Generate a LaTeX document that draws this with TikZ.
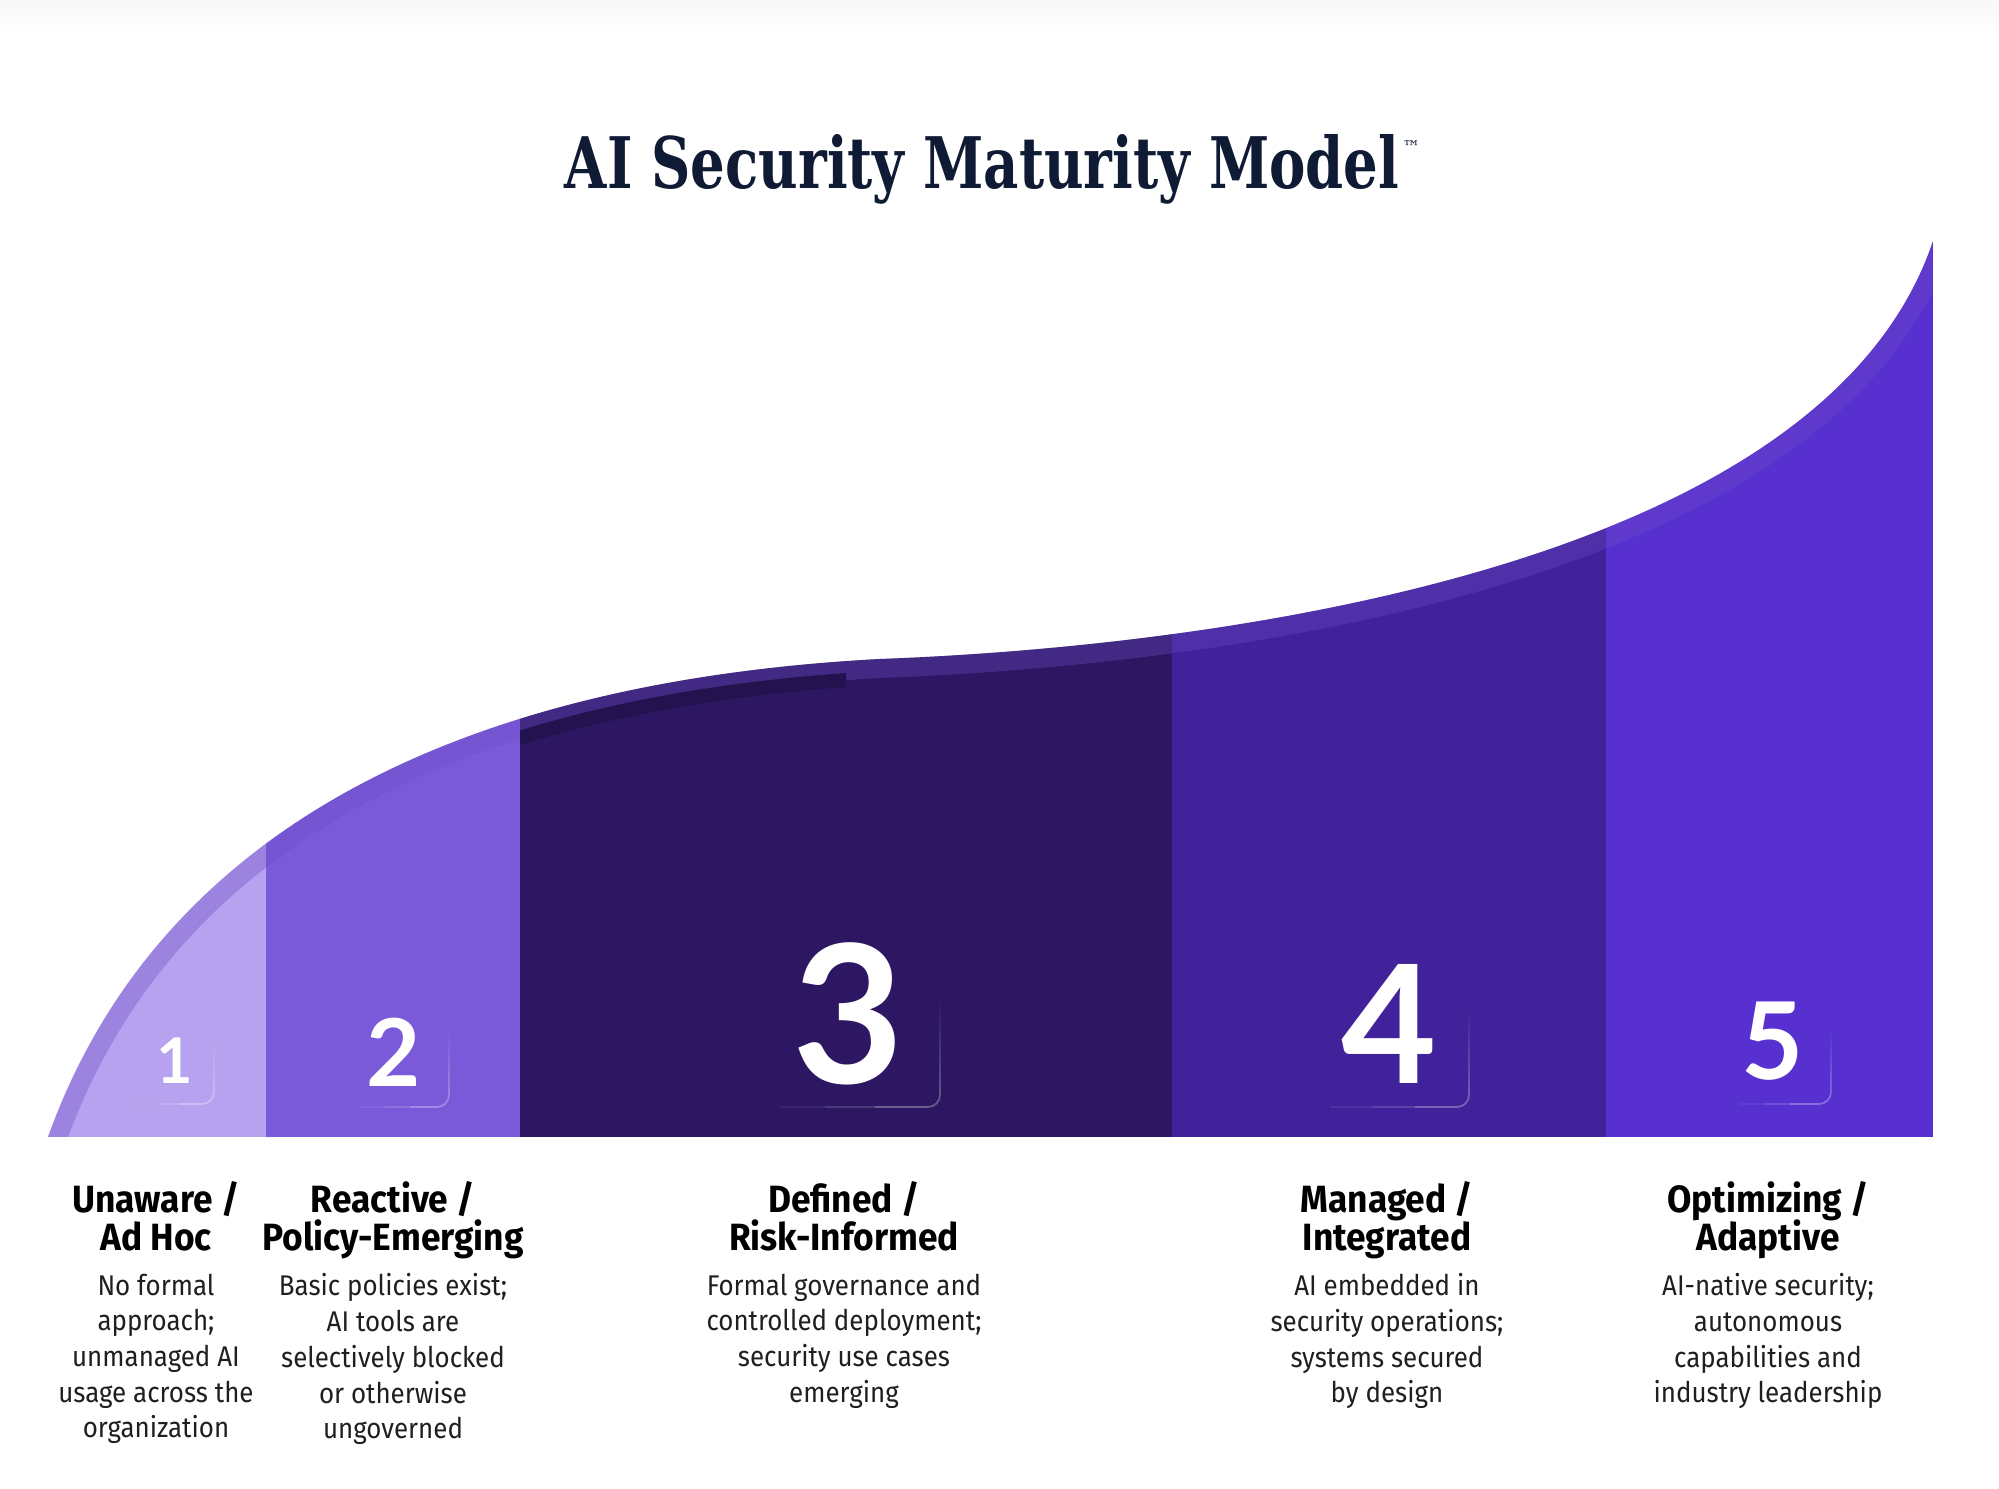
\documentclass[tikz,border=0pt]{standalone}
\usepackage{fontspec}
\usetikzlibrary{fadings}
\newfontfamily\ttlfont{DejaVu Serif}
\newfontfamily\hdfont[FakeStretch=0.93]{Fira Sans}
\newfontfamily\txtfont[FakeStretch=0.91]{Fira Sans}
\newfontfamily\numfont{Lato}
\newcommand\tightlines{\lineskiplimit=-10pt\relax}
\definecolor{ttltext}{HTML}{0F1B34}
\definecolor{lvA}{HTML}{B7A2F0}
\definecolor{lvB}{HTML}{7B5AD9}
\definecolor{lvC}{HTML}{2D1762}
\definecolor{lvD}{HTML}{42229A}
\definecolor{lvE}{HTML}{5830D0}
\definecolor{bandc}{HTML}{6A4CC4}
\definecolor{shadec}{HTML}{22134F}
\def\crest{(48,1137) .. controls (115,950) and (300,690) .. (880,659) .. controls (1180,648) and (1820,578) .. (1933,241)}
\tikzset{
  ttl/.style={font=\ttlfont\bfseries, text=ttltext, anchor=base, inner sep=0pt},
  tmk/.style={font=\ttlfont\fontsize{5}{6}\selectfont, text=ttltext, anchor=north west, inner sep=0pt},
  hdg/.style={font=\hdfont\bfseries\fontsize{10.8}{10.8}\selectfont\tightlines, text=black, align=center, anchor=north, inner sep=0pt},
  desc/.style={font=\txtfont\fontsize{8.1}{10.15}\selectfont\tightlines, text=black!88, align=center, anchor=north, inner sep=0pt},
  num/.style={text=white, anchor=base, inner sep=0pt},
  band/.style={draw=bandc, opacity=0.35, line width=10.8pt},
  ledge/.style={draw=shadec, line width=4pt},
  tagv/.style={draw=white, opacity=0.3, line width=0.5pt, rounded corners=3.4pt, path fading=north},
  tagh/.style={draw=white, opacity=#1, line width=0.5pt},
}
\begin{document}
\begin{tikzpicture}[x=0.01cm,y=-0.01cm]
  \useasboundingbox (0,0) rectangle (1999,1489);
  \fill[top color=black!3, bottom color=white] (0,0) rectangle (1999,35);
  \node[ttl] (title) at (982,189) {\resizebox{8.34cm}{0.54cm}{AI Security Maturity Model}};
  \node[tmk] (tm) at (1402,140) {™};
  \begin{scope}
    \clip \crest -- (1933,1137) -- cycle;
    \fill[lvA] (0,0) rectangle (266,1137);
    \fill[lvB] (266,0) rectangle (520,1137);
    \fill[lvC] (520,0) rectangle (1172,1137);
    \fill[lvD] (1172,0) rectangle (1606,1137);
    \fill[lvE] (1606,0) rectangle (1933,1137);
    \draw[band] \crest;
    \begin{scope}
      \clip (520,0) rectangle (846,1137);
      \draw[ledge, shift={(0,19)}] \crest;
    \end{scope}
  \end{scope}
  \draw[tagv] (214,1040) -- (214,1104) -- (200,1104);
  \draw[tagh=0.3] (200,1104) -- (180,1104);
  \draw[tagh=0.15] (180,1104) -- (160,1104);
  \draw[tagh=0.06] (160,1104) -- (140,1104);
  \draw[tagv] (449,1030) -- (449,1107) -- (435,1107);
  \draw[tagh=0.3] (435,1107) -- (410,1107);
  \draw[tagh=0.15] (410,1107) -- (385,1107);
  \draw[tagh=0.06] (385,1107) -- (360,1107);
  \draw[tagv] (940,1000) -- (940,1107) -- (926,1107);
  \draw[tagh=0.3] (926,1107) -- (875,1107);
  \draw[tagh=0.15] (875,1107) -- (825,1107);
  \draw[tagh=0.06] (825,1107) -- (780,1107);
  \draw[tagv] (1469,1010) -- (1469,1107) -- (1455,1107);
  \draw[tagh=0.3] (1455,1107) -- (1415,1107);
  \draw[tagh=0.15] (1415,1107) -- (1372,1107);
  \draw[tagh=0.06] (1372,1107) -- (1330,1107);
  \draw[tagv] (1831,1030) -- (1831,1104) -- (1817,1104);
  \draw[tagh=0.3] (1817,1104) -- (1790,1104);
  \draw[tagh=0.15] (1790,1104) -- (1765,1104);
  \draw[tagh=0.06] (1765,1104) -- (1740,1104);
  \node[num, font=\numfont\bfseries\fontsize{17.9}{20}\selectfont] (n1) at (175,1084) {1};
  \node[num, font=\numfont\bfseries\fontsize{26.6}{30}\selectfont] (n2) at (394,1087) {2};
  \node[num, font=\numfont\bfseries\fontsize{54.8}{60}\selectfont] (n3) at (848,1084) {3};
  \node[num, font=\numfont\bfseries\fontsize{46.8}{52}\selectfont] (n4) at (1389,1084) {4};
  \node[num, font=\numfont\bfseries\fontsize{30.5}{34}\selectfont] (n5) at (1773,1080) {5};
  \node[hdg] (h1) at (156,1181) {Unaware /\\Ad Hoc};
  \node[hdg] (h2) at (393,1181) {Reactive /\\Policy-Emerging};
  \node[hdg] (h3) at (844,1181) {Defined /\\Risk-Informed};
  \node[hdg] (h4) at (1387,1181) {Managed /\\Integrated};
  \node[hdg] (h5) at (1768,1181) {Optimizing /\\Adaptive};
  \node[desc] (d1) at (156,1273) {No formal\\approach;\\unmanaged AI\\usage across the\\organization};
  \node[desc] (d2) at (393,1273) {Basic policies exist;\\AI tools are\\selectively blocked\\or otherwise\\ungoverned};
  \node[desc] (d3) at (844,1273) {Formal governance and\\controlled deployment;\\security use cases\\emerging};
  \node[desc] (d4) at (1387,1273) {AI embedded in\\security operations;\\systems secured\\by design};
  \node[desc] (d5) at (1768,1273) {AI-native security;\\autonomous\\capabilities and\\industry leadership};
\end{tikzpicture}
\end{document}
